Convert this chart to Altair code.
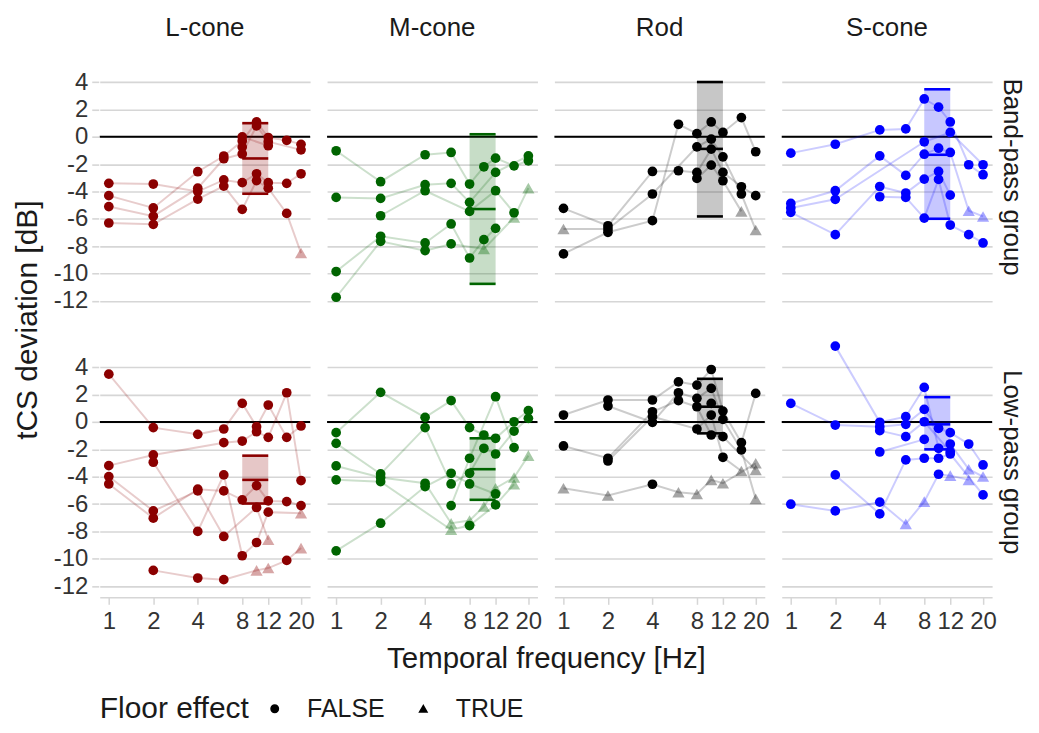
import altair as alt
import pandas as pd

CONES = ["L-cone", "M-cone", "Rod", "S-cone"]
GROUPS = ["Band-pass group", "Low-pass group"]
COLORS = ["#8B0000", "#006400", "#000000", "#0000FF"]
FREQ_TICKS = [1, 2, 4, 8, 12, 20]
Y_TICKS = [-12, -10, -8, -6, -4, -2, 0, 2, 4]

# each subject: list of (frequency Hz, deviation dB, floor effect 0/1)
L_BAND = [
    [(1, -3.4, 0), (2, -3.45, 0), (4, -4.0, 0), (6, -3.15, 0), (8, -3.35, 0), (10, -2.7, 0), (12, -3.35, 0), (16, -3.4, 0), (20, -2.7, 0)],
    [(1, -4.3, 0), (2, -5.2, 0), (4, -2.55, 0), (6, -1.4, 0), (8, -0.3, 0), (10, 1.1, 0), (12, -0.05, 0), (16, -0.25, 0), (20, -0.55, 0)],
    [(1, -5.1, 0), (2, -5.8, 0), (4, -3.75, 0), (6, -1.6, 0), (8, -1.25, 0), (10, 0.8, 0), (12, -0.35, 0), (20, -0.95, 0)],
    [(1, -6.3, 0), (2, -6.4, 0), (4, -4.55, 0), (6, -3.6, 0), (8, -5.3, 0), (10, -3.2, 0), (12, -3.75, 0), (16, -5.6, 0), (20, -8.5, 1)],
    [(8, 0.0, 0), (12, -0.65, 0)],
    [(8, -0.75, 0)],
]
M_BAND = [
    [(1, -1.02, 0), (2, -3.28, 0), (4, -1.31, 0), (6, -1.14, 0), (8, -3.45, 0), (10, -2.19, 0), (12, -1.56, 0), (16, -2.12, 0), (20, -1.75, 0)],
    [(1, -4.43, 0), (2, -4.5, 0), (4, -3.5, 0), (6, -3.4, 0), (8, -4.79, 0), (12, -2.6, 0), (20, -1.39, 0)],
    [(2, -5.77, 0), (4, -3.94, 0), (8, -5.45, 0), (12, -3.94, 0), (16, -5.55, 0)],
    [(1, -9.85, 0), (2, -7.27, 0), (4, -7.76, 0), (6, -6.37, 0), (8, -8.86, 0), (10, -7.52, 0), (12, -6.69, 0)],
    [(1, -11.73, 0), (2, -7.64, 0), (4, -8.32, 0), (6, -7.83, 0), (10, -8.2, 1), (16, -5.9, 1), (20, -3.75, 1)],
]
ROD_BAND = [
    [(1, -5.23, 0), (2, -6.5, 0), (4, -2.53, 0), (6, -2.48, 0), (8, -2.6, 0), (10, -0.9, 0), (12, -2.6, 0), (16, -3.65, 0), (20, -4.3, 0)],
    [(1, -6.74, 1), (2, -6.74, 0), (4, -4.18, 0), (8, -0.73, 0), (10, -0.17, 0), (12, -1.46, 0), (16, -4.18, 0), (20, -6.81, 1)],
    [(1, -8.56, 0), (2, -6.98, 0), (4, -6.13, 0), (6, 0.92, 0), (8, 0.24, 0), (10, 1.09, 0), (12, 0.32, 0), (16, 1.41, 0), (20, -1.09, 0)],
    [(8, -3.04, 0), (10, -2.07, 0), (12, -3.21, 0), (16, -5.45, 1)],
]
S_BAND = [
    [(1, -1.19, 0), (2, -0.54, 0), (4, 0.51, 0), (6, 0.58, 0), (8, 2.77, 0), (10, 2.17, 0), (12, 1.09, 0), (16, -2.04, 0), (20, -2.77, 0)],
    [(1, -4.87, 0), (2, -3.94, 0), (4, -1.39, 0), (6, -2.82, 0), (8, -1.27, 0), (10, -0.83, 0), (12, -1.14, 0), (16, -5.4, 1), (20, -5.82, 1)],
    [(1, -5.2, 0), (2, -4.57, 0), (8, -0.36, 0), (12, 0.32, 0), (20, -2.04, 0)],
    [(1, -5.52, 0), (2, -7.15, 0), (4, -3.63, 0), (6, -4.11, 0), (8, -3.09, 0), (10, -2.53, 0), (12, -4.26, 0)],
    [(4, -4.38, 0), (6, -4.43, 0), (8, -5.94, 0), (10, -3.11, 0), (12, -6.45, 0), (16, -7.15, 0), (20, -7.76, 0)],
]
L_LOW = [
    [(1, 3.5, 0), (2, -0.41, 0), (4, -0.9, 0), (6, -0.51, 0), (8, 1.36, 0), (10, -0.34, 0), (12, 1.24, 0), (16, -1.12, 0), (20, -0.29, 0)],
    [(1, -3.19, 0), (2, -2.41, 0), (6, -1.51, 0), (8, -1.39, 0), (10, -0.71, 0), (12, -1.12, 0), (16, 2.14, 0), (20, -4.28, 0)],
    [(1, -3.99, 0), (2, -6.5, 0), (4, -5.04, 0), (6, -8.37, 0), (10, -6.25, 0), (12, -8.61, 1)],
    [(1, -4.53, 0), (2, -7.03, 0), (4, -4.91, 0), (6, -5.04, 0), (8, -5.69, 0), (10, -4.65, 0), (12, -5.77, 0), (16, -5.82, 0), (20, -6.11, 0)],
    [(2, -2.94, 0), (4, -8.0, 0), (6, -3.87, 0), (8, -9.78, 0), (10, -8.81, 0), (12, -6.59, 0), (20, -6.67, 1)],
    [(2, -10.85, 0), (4, -11.41, 0), (6, -11.53, 0), (10, -10.85, 1), (12, -10.68, 1), (16, -10.12, 0), (20, -9.22, 1)],
]
M_LOW = [
    [(1, -0.78, 0), (2, 2.17, 0), (4, 0.34, 0), (6, 1.56, 0), (8, -0.41, 0), (10, -0.95, 0), (12, -1.19, 0), (16, 0.02, 0), (20, 0.83, 0)],
    [(1, -1.56, 0), (2, -3.8, 0), (4, -0.41, 0), (6, -4.53, 0), (8, -3.75, 0), (10, -1.92, 0), (12, -2.34, 0), (16, -0.66, 0), (20, 0.27, 0)],
    [(1, -3.21, 0), (2, -4.06, 0), (4, -4.48, 0), (6, -7.4, 1), (8, -7.2, 1), (10, -6.18, 1), (12, -4.84, 1), (16, -4.06, 1), (20, -2.46, 1)],
    [(1, -4.23, 0), (2, -4.36, 0), (6, -7.88, 1), (8, -7.57, 0), (12, -6.06, 0), (16, -4.55, 1)],
    [(1, -9.42, 0), (2, -7.4, 0), (4, -4.72, 0), (6, -3.75, 0), (8, -4.53, 0), (12, -5.26, 0)],
    [(6, -6.11, 0), (8, -2.65, 0), (12, 1.85, 0), (16, -1.87, 0)],
]
ROD_LOW = [
    [(1, 0.51, 0), (2, 1.61, 0), (4, 1.61, 0), (6, 2.94, 0), (8, 2.7, 0), (10, 3.84, 0), (12, 0.8, 0), (16, -1.51, 0), (20, 2.09, 0)],
    [(2, 1.17, 0), (4, -0.02, 0), (6, 2.14, 0), (8, 1.73, 0), (10, 2.46, 0), (12, 0.19, 0), (16, -2.04, 0), (20, -5.62, 1)],
    [(1, -1.75, 0), (2, -2.65, 0), (4, 0.75, 0), (6, 1.56, 0), (8, 1.12, 0), (10, -0.95, 0), (12, -1.07, 0), (20, -3.5, 1)],
    [(2, -2.85, 0), (4, 0.39, 0), (8, -0.51, 0), (10, 0.51, 0), (12, -2.58, 0), (16, -3.58, 1)],
    [(1, -4.84, 1), (2, -5.38, 1), (4, -4.55, 0), (6, -5.13, 1), (8, -5.26, 1), (10, -4.23, 1), (12, -4.48, 1), (20, -3.02, 1)],
    [(10, 1.36, 0)],
]
S_LOW = [
    [(1, 1.36, 0), (2, -0.22, 0), (4, -0.34, 0), (6, -0.17, 0), (8, 0.92, 0), (10, -0.46, 0), (12, -0.78, 0), (16, -1.61, 0), (20, -3.14, 0)],
    [(2, 5.55, 0), (4, -0.02, 0), (6, 0.39, 0), (8, 2.53, 0), (10, -1.92, 0), (12, -1.61, 0), (16, -3.45, 1), (20, -3.99, 1)],
    [(1, -6.01, 0), (2, -6.5, 0), (4, -5.86, 0), (6, -7.45, 1), (8, -5.82, 1), (10, -3.82, 0), (12, -3.92, 1), (16, -4.23, 1)],
    [(2, -3.87, 0), (4, -6.72, 0), (6, -2.77, 0), (8, -2.65, 0), (10, -2.65, 0), (12, -2.34, 0), (20, -5.33, 0)],
    [(4, -0.63, 0), (6, -1.07, 0), (8, 0.02, 0), (12, -2.17, 0)],
    [(4, -2.19, 0), (8, -1.27, 0)],
]

# 8-12 Hz summary band per panel (lower, mean, upper), order: band row L,M,Rod,S then low row
BAND_LO = [-4.16, -10.75, -5.82, -5.99, -5.96, -5.69, -0.83, -2.0]
BAND_MID = [-1.58, -5.28, -0.88, -1.31, -4.23, -3.45, 1.12, -0.17]
BAND_HI = [1.0, 0.19, 4.01, 3.48, -2.46, -1.19, 3.16, 1.82]
BAND_F = [8, 12]

PANELS = [L_BAND, M_BAND, ROD_BAND, S_BAND, L_LOW, M_LOW, ROD_LOW, S_LOW]

rows = []
for i, panel in enumerate(PANELS):
    grp = GROUPS[i // 4]
    cone = CONES[i % 4]
    for s, subj in enumerate(panel):
        for f, v, fl in subj:
            rows.append(dict(kind="pt", group=grp, cone=cone, subj=f"{i}-{s}", freq=f,
                             db=v, floor="TRUE" if fl else "FALSE"))
    rows.append(dict(kind="sum", group=grp, cone=cone, freq=BAND_F[0], freq2=BAND_F[1],
                     lo=BAND_LO[i], mid=BAND_MID[i], hi=BAND_HI[i]))
    rows.append(dict(kind="zero", group=grp, cone=cone, zval=0))
df = pd.DataFrame(rows)

FONT = "Liberation Sans"
GRID = "#D6D6D6"
TXT = "#1A1A1A"

xscale = alt.Scale(type="log", domain=[0.868, 23.04], nice=False)
yscale = alt.Scale(domain=[-12.82, 6.94], nice=False, zero=False)
xaxis = alt.Axis(values=FREQ_TICKS, title=None, grid=False, labelOverlap=False, labelFlush=False,
                 domain=True, domainColor=GRID, domainWidth=1.5, tickColor=GRID, tickWidth=1.5,
                 tickSize=7, labelFontSize=24, labelColor="#333333", labelPadding=5,
                 labelExpr="'' + datum.value")
yaxis = alt.Axis(values=Y_TICKS, title=None, grid=True, gridColor=GRID, gridWidth=1.6,
                 domain=False, tickColor=GRID, tickWidth=1.6, tickSize=7, labelFontSize=24,
                 labelColor="#333333", labelPadding=4, labelExpr="'' + datum.value")
color = alt.Color("cone:N", scale=alt.Scale(domain=CONES, range=COLORS), legend=None)

base = alt.Chart()

zero = base.transform_filter("datum.kind == 'zero'").mark_rule(color="black", strokeWidth=2).encode(
    y=alt.Y("zval:Q", scale=yscale, axis=yaxis))

rect = base.transform_filter("datum.kind == 'sum'").mark_rect(opacity=0.22).encode(
    x=alt.X("freq:Q", scale=xscale, axis=xaxis), x2="freq2:Q",
    y=alt.Y("lo:Q", scale=yscale, axis=yaxis), y2="hi:Q", color=color)

rules = base.transform_filter("datum.kind == 'sum'").transform_fold(
    ["lo", "mid", "hi"], as_=["stat", "val"]).mark_rule(strokeWidth=2.6).encode(
    x=alt.X("freq:Q", scale=xscale, axis=xaxis), x2="freq2:Q",
    y=alt.Y("val:Q", scale=yscale, axis=yaxis), color=color)

lines = base.transform_filter("datum.kind == 'pt'").mark_line(strokeWidth=2, opacity=0.2).encode(
    x=alt.X("freq:Q", scale=xscale, axis=xaxis), y=alt.Y("db:Q", scale=yscale, axis=yaxis),
    color=color, detail="subj:N", order="freq:Q")

points = base.transform_filter("datum.kind == 'pt'").mark_point(filled=True).encode(
    x=alt.X("freq:Q", scale=xscale, axis=xaxis), y=alt.Y("db:Q", scale=yscale, axis=yaxis),
    color=color,
    shape=alt.Shape("floor:N", scale=alt.Scale(domain=["FALSE", "TRUE"], range=["circle", "triangle-up"]),
                    legend=alt.Legend(title="Floor effect", orient="bottom", direction="horizontal",
                                      titleOrient="left", titleFontSize=30, titleFontWeight="normal",
                                      titleColor=TXT, labelFontSize=25, labelColor=TXT,
                                      symbolFillColor="black", symbolStrokeColor="black",
                                      symbolOpacity=1, symbolSize=55, titlePadding=13,
                                      columnPadding=26, labelOffset=20, offset=22)),
    size=alt.condition("datum.floor == 'TRUE'", alt.value(150), alt.value(95)),
    opacity=alt.condition("datum.floor == 'TRUE'", alt.value(0.35), alt.value(1.0)))

layered = alt.layer(zero, rect, rules, lines, points).properties(width=211, height=271)

chart = layered.facet(
    data=df,
    row=alt.Row("group:N", sort=GROUPS, title="tCS deviation [dB]",
                header=alt.Header(labelOrient="right", labelAngle=90, labelFontSize=26,
                                  labelColor=TXT, labelPadding=6, titleOrient="left",
                                  titleFontSize=30, titleFontWeight="normal", titleColor=TXT,
                                  titlePadding=0)),
    column=alt.Column("cone:N", sort=CONES, title="Temporal frequency [Hz]",
                      header=alt.Header(labelOrient="top", labelFontSize=26, labelColor=TXT,
                                        labelPadding=1, titleOrient="bottom", titleFontSize=29.5,
                                        titleFontWeight="normal", titleColor=TXT,
                                        titlePadding=2)),
    spacing=15,
).configure(font=FONT).configure_view(stroke=None).properties(
    padding={"left": 4, "top": 6, "right": 6, "bottom": 0})

chart.save("out.html", embed_options={"renderer": "svg", "actions": False})
